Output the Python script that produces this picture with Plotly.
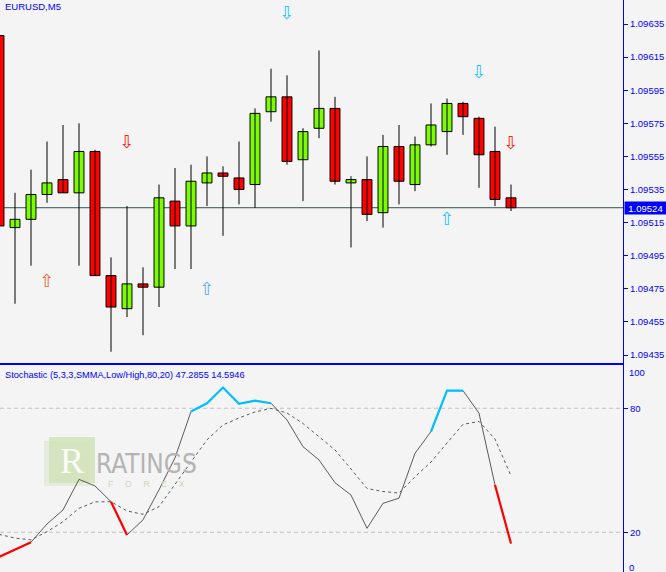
import plotly.graph_objects as go

# ---------------- data ----------------
symbol_label = "EURUSD,M5"
stoch_label = "Stochastic (5,3,3,SMMA,Low/High,80,20) 47.2855 14.5946"

candle_index = list(range(33))
opens = [1.09628, 1.09512, 1.09517, 1.09532, 1.09541, 1.09533, 1.09558, 1.09483, 1.09463, 1.09478,
         1.09476, 1.09528, 1.09513, 1.09539, 1.09545, 1.09542, 1.09538, 1.09582, 1.09591, 1.09553,
         1.09572, 1.09584, 1.09539, 1.09541, 1.09521, 1.09561, 1.09538, 1.09562, 1.09570, 1.09587,
         1.09578, 1.09558, 1.09530]
highs = [1.09629, 1.09533, 1.09547, 1.09564, 1.09574, 1.09575, 1.09559, 1.09494, 1.09525, 1.09488,
         1.09538, 1.09548, 1.09550, 1.09555, 1.09549, 1.09564, 1.09584, 1.09608, 1.09604, 1.09572,
         1.09619, 1.09591, 1.09543, 1.09555, 1.09568, 1.09574, 1.09567, 1.09587, 1.09590, 1.09588,
         1.09579, 1.09573, 1.09538]
lows = [1.09508, 1.09466, 1.09489, 1.09527, 1.09533, 1.09489, 1.09483, 1.09437, 1.09458, 1.09447,
        1.09464, 1.09487, 1.09487, 1.09525, 1.09507, 1.09526, 1.09524, 1.09576, 1.09550, 1.09528,
        1.09566, 1.09538, 1.09500, 1.09516, 1.09512, 1.09526, 1.09534, 1.09561, 1.09556, 1.09568,
        1.09536, 1.09525, 1.09522]
closes = [1.09513, 1.09517, 1.09532, 1.09539, 1.09533, 1.09558, 1.09483, 1.09464, 1.09478, 1.09476,
          1.09530, 1.09513, 1.09540, 1.09545, 1.09543, 1.09535, 1.09581, 1.09591, 1.09552, 1.09570,
          1.09584, 1.09540, 1.09541, 1.09520, 1.09561, 1.09540, 1.09562, 1.09574, 1.09587, 1.09579,
          1.09556, 1.09529, 1.09524]

price_ticks = [1.09435, 1.09455, 1.09475, 1.09495, 1.09515, 1.09535, 1.09555, 1.09575, 1.09595, 1.09615, 1.09635]

# signal arrows (candle index, price)
down_arrow_x = [8, 18, 30, 32]
down_arrow_y = [1.09563, 1.09641, 1.09605, 1.09562]
down_arrow_colors = ["#ff2020", "#22c4ff", "#22c4ff", "#ff2020"]
up_arrow_x = [3, 13, 28]
up_arrow_y = [1.09479, 1.09474, 1.09516]
up_arrow_colors = ["#e8643a", "#5aaee8", "#22c4ff"]

# stochastic
stoch_main = [8.05, 11.7, 15.2, 24.0, 30.8, 45.6, 42.4, 34.8, 18.7, 26.0,
              40.5, 56.0, 78.4, 82.4, 90.0, 82.1, 83.7, 82.4, 74.3, 61.4,
              55.0, 44.0, 38.0, 21.9, 34.0, 36.5, 58.2, 68.7, 88.5, 88.5,
              77.6, 42.9, 14.5946]
stoch_signal = [19.0, 17.2, 16.3, 20.3, 25.1, 31.6, 34.7, 34.8, 30.3, 28.7,
                32.4, 42.9, 54.0, 64.7, 71.9, 75.3, 78.2, 79.9, 77.7, 72.6,
                66.1, 59.8, 50.6, 41.2, 39.7, 39.0, 46.8, 54.0, 63.2, 72.2,
                73.6, 65.1, 47.2855]
red_segments = [(0, 2), (7, 8), (31, 32)]
cyan_segments = [(12, 17), (27, 29)]
stoch_levels = [80, 20]

# ---------------- style ----------------
BG = "#f4f4f4"
BLUE = "#0000ff"
GREEN = "#7cfc00"
RED = "#ff0000"
FONT = "Liberation Sans, Arial, sans-serif"

fig = go.Figure()

# wicks
wx, wy = [], []
for i, h, l in zip(candle_index, highs, lows):
    wx += [i, i, None]
    wy += [l, h, None]
fig.add_trace(go.Scatter(x=wx, y=wy, mode="lines", line=dict(color="black", width=1),
                         hoverinfo="skip", xaxis="x", yaxis="y"))

# bodies
bases = [min(o, c) for o, c in zip(opens, closes)]
heights = [max(abs(c - o), 0.000002) for o, c in zip(opens, closes)]
colors = [GREEN if c > o else RED for o, c in zip(opens, closes)]
fig.add_trace(go.Bar(x=candle_index, y=heights, base=bases, width=0.62,
                     marker=dict(color=colors, line=dict(color="black", width=1)),
                     xaxis="x", yaxis="y"))

# arrows
fig.add_trace(go.Scatter(x=down_arrow_x, y=down_arrow_y, mode="text", text=["\u21e9"] * len(down_arrow_x),
                         textposition="middle center", cliponaxis=False,
                         textfont=dict(family="DejaVu Sans", size=18, color=down_arrow_colors),
                         xaxis="x", yaxis="y"))
fig.add_trace(go.Scatter(x=up_arrow_x, y=up_arrow_y, mode="text", text=["\u21e7"] * len(up_arrow_x),
                         textposition="middle center", cliponaxis=False,
                         textfont=dict(family="DejaVu Sans", size=18, color=up_arrow_colors),
                         xaxis="x", yaxis="y"))

# stochastic lines
fig.add_trace(go.Scatter(x=candle_index, y=stoch_signal, mode="lines",
                         line=dict(color="#5a5a5a", width=1, dash="3px,3px"),
                         xaxis="x2", yaxis="y2"))
fig.add_trace(go.Scatter(x=candle_index, y=stoch_main, mode="lines",
                         line=dict(color="#5a5a5a", width=1),
                         xaxis="x2", yaxis="y2"))
for segs, col in ((red_segments, RED), (cyan_segments, "#00bfff")):
    sx, sy = [], []
    for a, b in segs:
        sx += candle_index[a:b + 1] + [None]
        sy += stoch_main[a:b + 1] + [None]
    fig.add_trace(go.Scatter(x=sx, y=sy, mode="lines", line=dict(color=col, width=2.2),
                             xaxis="x2", yaxis="y2"))

shapes = []
# last price line
shapes.append(dict(type="line", xref="x domain", yref="y", x0=0, x1=1,
                   y0=closes[-1], y1=closes[-1], line=dict(color="#2f4f4f", width=1), layer="below"))
# stochastic levels
for lv in stoch_levels:
    shapes.append(dict(type="line", xref="x2 domain", yref="y2", x0=0, x1=1, y0=lv, y1=lv,
                       line=dict(color="#c0c0c0", width=1, dash="4px,3px"), layer="below"))

W, H = 623.0, 572.0
def px(x):
    return x / W
def py(y):
    return 1 - y / H

# watermark logo
shapes.append(dict(type="rect", xref="paper", yref="paper", x0=px(44), x1=px(90), y0=py(486), y1=py(441),
                   fillcolor="#e2e9da", line=dict(width=0), layer="below", opacity=0.8))
shapes.append(dict(type="rect", xref="paper", yref="paper", x0=px(49), x1=px(95), y0=py(483), y1=py(437),
                   fillcolor="#cfe3b9", line=dict(width=0), layer="below", opacity=0.85))

annotations = [
    dict(text=symbol_label, xref="paper", yref="paper", x=px(3), y=py(6.5), xanchor="left", yanchor="middle",
         showarrow=False, font=dict(family=FONT, size=9.5, color=BLUE)),
    dict(text=stoch_label, xref="paper", yref="paper", x=px(3), y=py(375), xanchor="left", yanchor="middle",
         showarrow=False, font=dict(family=FONT, size=9.2, color=BLUE)),
    dict(text="100", xref="paper", yref="paper", x=1, xshift=4, y=py(372), xanchor="left", yanchor="middle",
         showarrow=False, font=dict(family=FONT, size=9.5, color=BLUE)),
    dict(text="0", xref="paper", yref="paper", x=1, xshift=4, y=py(567), xanchor="left", yanchor="middle",
         showarrow=False, font=dict(family=FONT, size=9.5, color=BLUE)),
    dict(text=f"{closes[-1]:.5f}", xref="paper", yref="y", x=1, xshift=1, y=closes[-1], xanchor="left",
         yanchor="middle", showarrow=False, bgcolor=BLUE, width=41, height=12, borderpad=0, align="center",
         font=dict(family=FONT, size=9.5, color="white")),
    dict(text="R", xref="paper", yref="paper", x=px(72), y=py(461), xanchor="center", yanchor="middle",
         showarrow=False, font=dict(family="Liberation Serif, serif", size=36, color="#fafcf6")),
    dict(text="RATINGS", xref="paper", yref="paper", x=px(146), y=py(464), xanchor="center", yanchor="middle",
         showarrow=False, font=dict(family="DejaVu Sans Condensed, Liberation Sans", size=26, color="#b4b4b4")),
    dict(text="F&nbsp;&nbsp;&nbsp;&nbsp;&nbsp;O&nbsp;&nbsp;&nbsp;&nbsp;&nbsp;R&nbsp;&nbsp;&nbsp;&nbsp;&nbsp;E&nbsp;&nbsp;&nbsp;&nbsp;&nbsp;X",
         xref="paper", yref="paper", x=px(146), y=py(484), xanchor="center", yanchor="middle",
         showarrow=False, font=dict(family=FONT, size=8.5, color="#c8d6be")),
]

x_range = [0.0625, 39.0]
fig.update_layout(
    width=666, height=572, margin=dict(l=0, r=43, t=0, b=0, autoexpand=False),
    paper_bgcolor=BG, plot_bgcolor=BG, showlegend=False, barmode="overlay",
    shapes=shapes, annotations=annotations,
    xaxis=dict(domain=[0, 1], range=x_range, anchor="y", showticklabels=False, showgrid=False,
               zeroline=False, showline=True, linecolor=BLUE, linewidth=1, ticks=""),
    yaxis=dict(domain=[py(362.5), 1], range=[1.094305, 1.096495], side="right", anchor="x",
               tickvals=price_ticks, ticktext=[f"{t:.5f}" for t in price_ticks],
               ticks="outside", ticklen=4, tickcolor=BLUE, showline=True, linecolor=BLUE, linewidth=1,
               showgrid=False, zeroline=False, tickfont=dict(family=FONT, size=9.5, color=BLUE)),
    xaxis2=dict(domain=[0, 1], range=x_range, anchor="y2", side="top", showticklabels=False,
                showgrid=False, zeroline=False, showline=True, linecolor=BLUE, linewidth=1, ticks=""),
    yaxis2=dict(domain=[0, py(365)], range=[0.79, 100.9], side="right", anchor="x2",
                tickvals=stoch_levels, ticktext=[str(v) for v in stoch_levels],
                ticks="outside", ticklen=4, tickcolor=BLUE, showline=True, linecolor=BLUE, linewidth=1,
                showgrid=False, zeroline=False, tickfont=dict(family=FONT, size=9.5, color=BLUE)),
)

fig.write_html("out.html", config={"displayModeBar": False},
               post_script="document.body.style.margin='0px';document.body.style.overflow='hidden';")
